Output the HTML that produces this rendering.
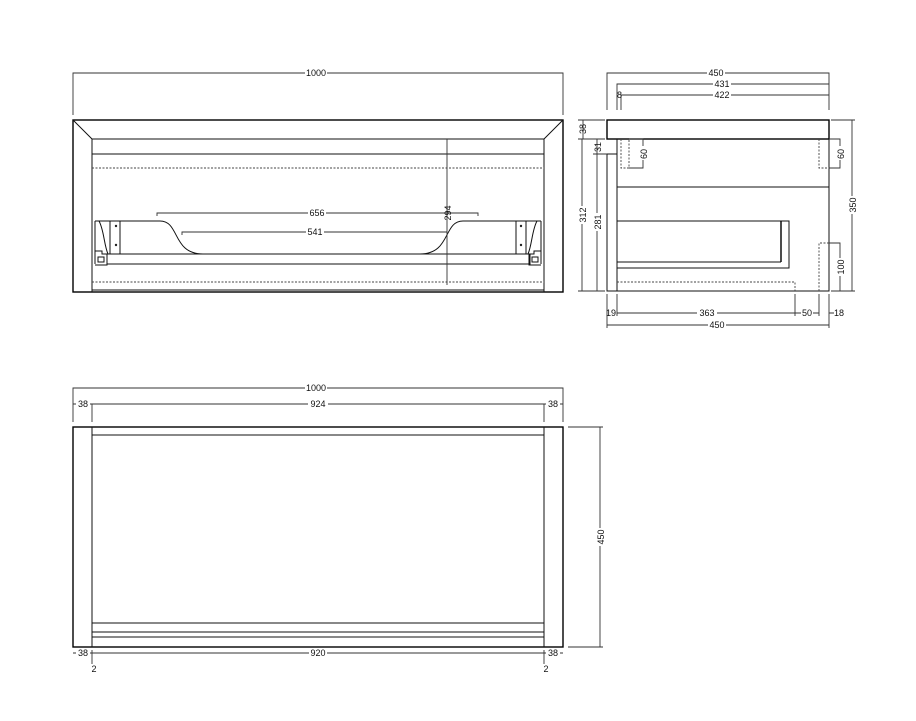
<!DOCTYPE html>
<html><head><meta charset="utf-8"><style>
html,body{margin:0;padding:0;background:#fff;width:916px;height:721px;overflow:hidden}
svg{display:block}
text{font-family:"Liberation Sans",sans-serif;font-size:9px;fill:#111}
.o{stroke:#000;stroke-width:1.4;fill:none}
.t{stroke:#111;stroke-width:1;fill:none}
.d{stroke:#333;stroke-width:0.9;fill:none}
.ds{stroke:#444;stroke-width:0.9;fill:none;stroke-dasharray:2,1.5}
</style></head><body>
<svg width="916" height="721" viewBox="0 0 916 721" xmlns="http://www.w3.org/2000/svg">
<!-- FRONT VIEW -->
<g>
<path class="d" d="M73 115V73H563V115"/>
<rect x="305" y="68" width="22" height="10" fill="#fff"/>
<text x="316" y="76" text-anchor="middle">1000</text>
<rect class="o" x="73" y="120" width="490" height="172"/>
<path class="t" d="M73 120L92 139M563 120L544 139"/>
<path class="t" d="M92 139V292M544 139V292M92 139H544M92 154H544"/>
<path class="ds" d="M92 168H544M92 282H544"/>
<path class="t" d="M92 290H544"/>
<!-- drawer -->
<path class="t" d="M95 221H160C180 221 172 254 203 254H420C451 254 443 221 463 221H541"/>
<path class="t" d="M95 221V254M110 221V254M120 221V254M526 221V254M516 221V254M541 221V254"/>
<path class="t" d="M99 221C104 230 104 245 108 254M537 221C532 230 532 245 528 254"/>
<rect class="t" x="107" y="254" width="423" height="10"/>
<path class="t" d="M95 264V251H102V254H107V265H95M98 262V257H104V262Z"/>
<path class="t" d="M541 264V251H534V254H529V265H541M538 262V257H532V262Z"/>
<circle cx="116" cy="226" r="1.2" fill="#222"/><circle cx="116" cy="245" r="1.2" fill="#222"/>
<circle cx="521" cy="226" r="1.2" fill="#222"/><circle cx="521" cy="245" r="1.2" fill="#222"/>
<!-- dims -->
<path class="d" d="M157 216V213H478V216"/>
<rect x="308" y="208" width="18" height="10" fill="#fff"/>
<text x="317" y="216" text-anchor="middle">656</text>
<path class="d" d="M182 235V232H447"/>
<rect x="306" y="227" width="18" height="10" fill="#fff"/>
<text x="315" y="235" text-anchor="middle">541</text>
<path class="d" d="M447 139V285"/>
<text transform="translate(451,213) rotate(-90)" text-anchor="middle">294</text>
</g>

<!-- SIDE VIEW -->
<g>
<path class="d" d="M607 110V73H829V110"/>
<rect x="707" y="68" width="18" height="10" fill="#fff"/><text x="716" y="76" text-anchor="middle">450</text>
<path class="d" d="M617 110V84H829"/>
<rect x="713" y="79" width="18" height="10" fill="#fff"/><text x="722" y="87" text-anchor="middle">431</text>
<path class="d" d="M621 110V95H829"/>
<rect x="713" y="90" width="18" height="10" fill="#fff"/><text x="722" y="98" text-anchor="middle">422</text>
<text x="617" y="98" font-size="7">8</text>
<rect class="o" x="607" y="120" width="222" height="19"/>
<path class="t" d="M607 154H617M607 154V291H829V139M617 139V291"/>
<path class="ds" d="M621 139V168H629V139M819 139V168H829"/>
<path class="t" d="M617 187H829"/>
<rect class="t" x="617" y="221" width="172" height="47"/>
<path class="t" d="M617 262H781"/>
<path class="o" d="M781 221V262"/>
<path class="ds" d="M617 282H795V291"/>
<path class="ds" d="M819 291V243H829"/>
<!-- left dims -->
<path class="d" d="M578 120H605M578 139H605"/>
<path class="d" d="M583 120V139"/>
<text transform="translate(586,129) rotate(-90)" text-anchor="middle">38</text>
<path class="d" d="M582 139V291M578 291H605"/>
<rect x="577" y="206" width="10" height="18" fill="#fff"/>
<text transform="translate(586,215) rotate(-90)" text-anchor="middle">312</text>
<path class="d" d="M597 139V154M593 154H607"/>
<text transform="translate(601,147) rotate(-90)" text-anchor="middle">31</text>
<path class="d" d="M597 154V291"/>
<rect x="592" y="213" width="10" height="18" fill="#fff"/>
<text transform="translate(601,222) rotate(-90)" text-anchor="middle">281</text>
<path class="d" d="M629 139H643V168H629"/>
<rect x="638" y="146" width="10" height="14" fill="#fff"/>
<text transform="translate(647,154) rotate(-90)" text-anchor="middle">60</text>
<path class="d" d="M829 139H840V168H829"/>
<rect x="835" y="146" width="10" height="14" fill="#fff"/>
<text transform="translate(844,154) rotate(-90)" text-anchor="middle">60</text>
<path class="d" d="M831 120H855M852 120V291M831 291H855"/>
<rect x="847" y="196" width="10" height="18" fill="#fff"/>
<text transform="translate(856,205) rotate(-90)" text-anchor="middle">350</text>
<path class="d" d="M829 243H840V291"/>
<rect x="835" y="258" width="10" height="18" fill="#fff"/>
<text transform="translate(844,267) rotate(-90)" text-anchor="middle">100</text>
<!-- bottom dims -->
<path class="d" d="M607 294V328M617 294V316M795 294V316M819 294V316M829 294V328"/>
<path class="d" d="M617 313H795M795 313H819M829 313H834"/>
<text x="611" y="316" text-anchor="middle">19</text>
<rect x="697" y="308" width="20" height="10" fill="#fff"/><text x="707" y="316" text-anchor="middle">363</text>
<rect x="801" y="308" width="12" height="10" fill="#fff"/><text x="807" y="316" text-anchor="middle">50</text>
<text x="839" y="316" text-anchor="middle">18</text>
<path class="d" d="M607 325H829"/>
<rect x="708" y="320" width="18" height="10" fill="#fff"/><text x="717" y="328" text-anchor="middle">450</text>
</g>

<!-- PLAN VIEW -->
<g>
<path class="d" d="M73 422V388H563V422"/>
<rect x="305" y="383" width="22" height="10" fill="#fff"/><text x="316" y="391" text-anchor="middle">1000</text>
<path class="d" d="M73 404H92M92 422V404H544V422M544 404H563"/>
<rect x="308" y="399" width="20" height="10" fill="#fff"/><text x="318" y="407" text-anchor="middle">924</text>
<rect x="76" y="399" width="14" height="10" fill="#fff"/><text x="83" y="407" text-anchor="middle">38</text>
<rect x="546" y="399" width="14" height="10" fill="#fff"/><text x="553" y="407" text-anchor="middle">38</text>
<rect class="o" x="73" y="427" width="490" height="220"/>
<path class="t" d="M92 427V647M544 427V647M92 435H544M92 623H544M92 632H544M92 637H544"/>
<path class="d" d="M568 427H603M600 427V647M568 647H603"/>
<rect x="595" y="528" width="10" height="18" fill="#fff"/>
<text transform="translate(604,537) rotate(-90)" text-anchor="middle">450</text>
<path class="d" d="M73 653H92M92 653H544M544 653H563M92 650V664M544 650V664"/>
<rect x="309" y="648" width="18" height="10" fill="#fff"/><text x="318" y="656" text-anchor="middle">920</text>
<rect x="76" y="648" width="14" height="10" fill="#fff"/><text x="83" y="656" text-anchor="middle">38</text>
<rect x="546" y="648" width="14" height="10" fill="#fff"/><text x="553" y="656" text-anchor="middle">38</text>
<text x="94" y="672" text-anchor="middle">2</text>
<text x="546" y="672" text-anchor="middle">2</text>
</g>
</svg>
</body></html>
